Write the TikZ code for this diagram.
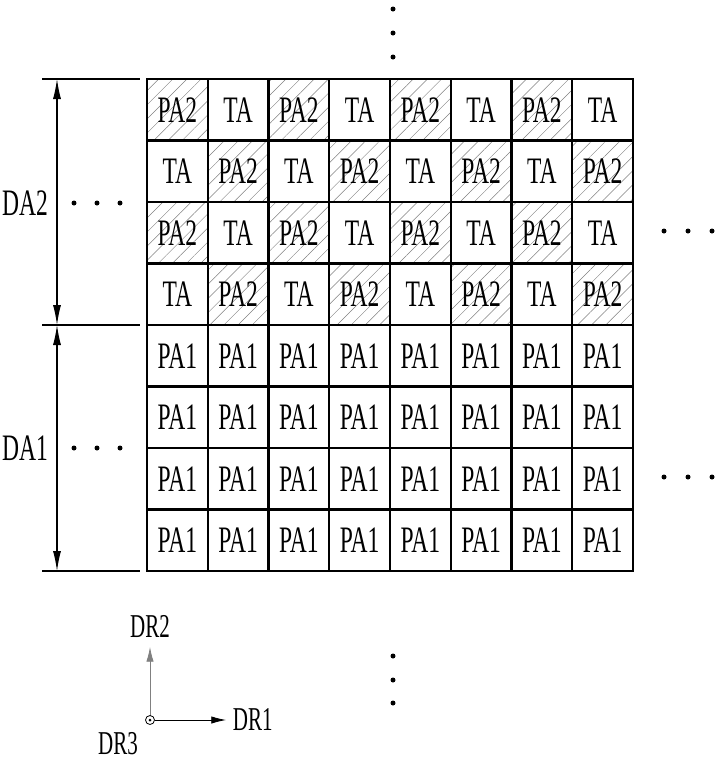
\documentclass[tikz,border=0pt]{standalone}
\usepackage{fontspec}
\setmainfont{Liberation Serif}[FakeStretch=0.63]
\usepackage{tikz}
\usetikzlibrary{arrows.meta, patterns.meta, positioning, calc}
\definecolor{hatchgray}{HTML}{808080}

\begin{document}
\begin{tikzpicture}[
    x=0.75pt, y=-0.75pt,
    cell/.style={rectangle, draw=black, line width=1.6pt, minimum width=45.6pt, minimum height=46.1pt, inner sep=0pt, font=\fontsize{28}{30}\selectfont},
    hatched/.style={cell, pattern={Lines[angle=45, distance=7.5pt, line width=0.35pt]}, pattern color=hatchgray},
    extline/.style={line width=0.8pt},
    dimarrow/.style={line width=0.8pt, {Latex[length=15pt, width=6pt]}-{Latex[length=15pt, width=6pt]}},
    axarrow/.style={line width=0.6pt, -{Latex[length=11pt, width=5.5pt]}},
    label/.style={font=\fontsize{28}{30}\selectfont, inner sep=0pt},
    axlabel/.style={font=\fontsize{25}{27}\selectfont, inner sep=0pt}
]
\useasboundingbox (0,0) rectangle (717,761);

% Pixel array: rows 1-4 in DA2, rows 5-8 in DA1
\foreach \r in {1,...,8} {
  \foreach \c in {1,...,8} {
    \pgfmathtruncatemacro{\parity}{mod(\r+\c,2)}
    \ifnum\r<5
      \ifnum\parity=0
        \node[hatched] (cell-\r-\c) at ({147+60.75*(\c-0.5)}, {79+61.5*(\r-0.5)}) {PA2};
      \else
        \node[cell] (cell-\r-\c) at ({147+60.75*(\c-0.5)}, {79+61.5*(\r-0.5)}) {TA};
      \fi
    \else
      \node[cell] (cell-\r-\c) at ({147+60.75*(\c-0.5)}, {79+61.5*(\r-0.5)}) {PA1};
    \fi
  }
}

% Dimension lines for DA2 and DA1
\coordinate (ext-top) at (42,79);
\coordinate (ext-mid) at (42,325);
\coordinate (ext-bot) at (42,571);
\draw[extline] (ext-top) -- ++(98,0);
\draw[extline] (ext-mid) -- ++(98,0);
\draw[extline] (ext-bot) -- ++(98,0);
\draw[dimarrow] ($(ext-top)+(15,0)$) -- ($(ext-mid)+(15,0)$);
\draw[dimarrow] ($(ext-mid)+(15,0)$) -- ($(ext-bot)+(15,0)$);

\node[label] (da2) at (25,203) {DA2};
\node[label] (da1) at (25,448) {DA1};

% Continuation dots
\foreach \x in {74,97,120} {
  \fill (\x,203) circle (2.5);
  \fill (\x,448) circle (2.5);
}
\foreach \x in {664,688,712} {
  \fill (\x,231) circle (2.5);
  \fill (\x,477) circle (2.5);
}
\foreach \y in {9,33,57} {
  \fill (393,\y) circle (2.5);
}
\foreach \y in {656,680,703} {
  \fill (393,\y) circle (2.5);
}

% Direction axes
\coordinate (origin) at (150,720);
\coordinate (dr2-tip) at (150,647);
\coordinate (dr1-tip) at (226,720);
\draw[axarrow, draw=gray] ($(origin)+(0,-4.5)$) -- (dr2-tip);
\draw[axarrow] ($(origin)+(4.5,0)$) -- (dr1-tip);
\draw[line width=0.6pt] (origin) circle (4.5);
\fill (origin) circle (1.5);

\node[axlabel] (dr2) at (150,626) {DR2};
\node[axlabel, right=5pt of dr1-tip] (dr1) {DR1};
\node[axlabel] (dr3) at (118,744) {DR3};

\end{tikzpicture}
\end{document}
